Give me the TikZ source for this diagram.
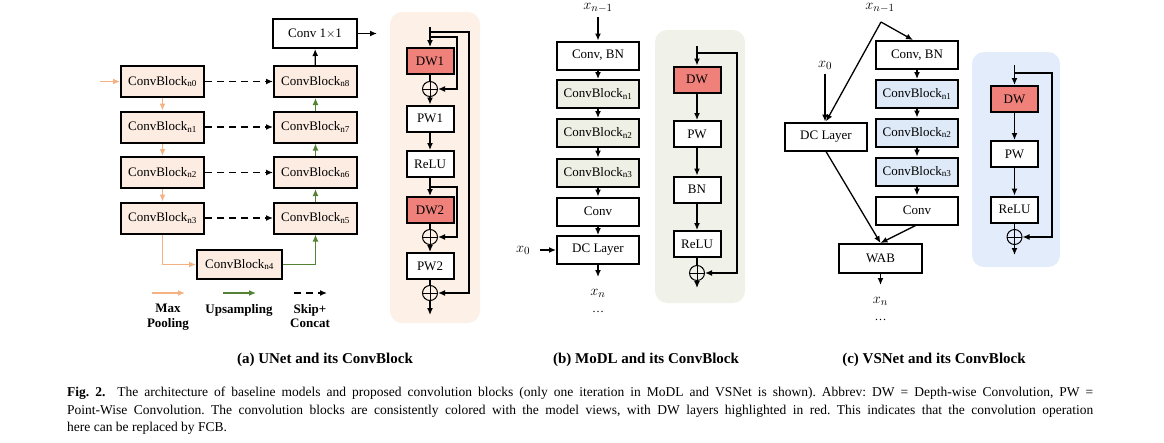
\documentclass[tikz,border=0pt]{standalone}
\usepackage{fontspec}
\setmainfont{Liberation Serif}
\usetikzlibrary{arrows.meta}
\definecolor{white}{RGB}{255,255,255}
\definecolor{black}{RGB}{0,0,0}
\definecolor{peach}{RGB}{252,236,226}
\definecolor{peach_bg}{RGB}{253,240,231}
\definecolor{salmon}{RGB}{240,128,122}
\definecolor{sage}{RGB}{238,240,229}
\definecolor{sage_bg}{RGB}{240,241,232}
\definecolor{ice}{RGB}{222,234,248}
\definecolor{ice_bg}{RGB}{226,236,250}
\definecolor{pool_orange}{RGB}{244,177,131}
\definecolor{up_green}{RGB}{84,130,53}

\tikzset{
	block/.style={draw=black,line width=2pt,fill=white,minimum width=83pt,minimum height=29pt,inner sep=0pt,font=\fontsize{13}{15}\selectfont},
	layer/.style={block,minimum width=47pt,minimum height=26pt},
	addnode/.style={circle,draw=black,line width=1pt,minimum size=15pt,inner sep=0pt,
		path picture={\draw[line width=1pt] (path picture bounding box.north) -- (path picture bounding box.south)
			(path picture bounding box.west) -- (path picture bounding box.east);}},
	flow/.style={black,line width=1.3pt,-{Latex[length=7pt,width=6pt]}},
	poolflow/.style={flow,pool_orange},
	upflow/.style={flow,up_green},
	skipflow/.style={flow,dash pattern=on 7pt off 5pt},
	legend/.style={align=center,font=\bfseries\fontsize{13}{14.5}\selectfont,inner sep=0pt},
	varlabel/.style={font=\fontsize{15}{17}\selectfont,inner sep=1pt},
	dotslabel/.style={font=\fontsize{12}{12}\selectfont,inner sep=0pt},
	subcaption/.style={font=\bfseries\fontsize{15}{17}\selectfont,inner sep=0pt}
}

\begin{document}
\begin{tikzpicture}[x=1pt,y=-1pt]
	\useasboundingbox (0,0) rectangle (1164,442);

	% panels of the conv blocks
	\fill[peach_bg,rounded corners=12pt] (390,12) rectangle (480,323);
	\fill[sage_bg,rounded corners=12pt] (655,30) rectangle (745,303);
	\fill[ice_bg,rounded corners=12pt] (972,52) rectangle (1060,267);

	% (a) UNet
	\node[block,fill=peach,minimum height=31pt] (n0) at (162.5,81.5) {ConvBlock\textsubscript{n0}};
	\node[block,fill=peach,minimum height=31pt] (n1) at (162.5,127) {ConvBlock\textsubscript{n1}};
	\node[block,fill=peach,minimum height=31pt] (n2) at (162.5,172.5) {ConvBlock\textsubscript{n2}};
	\node[block,fill=peach,minimum height=31pt] (n3) at (162.5,218) {ConvBlock\textsubscript{n3}};
	\node[block,fill=peach,minimum width=85pt] (n4) at (239.5,264.5) {ConvBlock\textsubscript{n4}};
	\node[block,fill=peach,minimum height=31pt] (n5) at (315.5,218) {ConvBlock\textsubscript{n5}};
	\node[block,fill=peach,minimum height=31pt] (n6) at (315.5,172.5) {ConvBlock\textsubscript{n6}};
	\node[block,fill=peach,minimum height=31pt] (n7) at (315.5,127) {ConvBlock\textsubscript{n7}};
	\node[block,fill=peach,minimum height=31pt] (n8) at (315.5,81.5) {ConvBlock\textsubscript{n8}};
	\node[block,minimum width=84pt] (c11) at (315,33.5) {Conv 1$\times$1};
	\coordinate (uin) at (100,81.5);
	\coordinate (uout) at (377,33.5);

	\draw[poolflow] (uin) -- (n0);
	\foreach \x/\y in {n0/n1,n1/n2,n2/n3}
		\draw[poolflow] (\x) -- (\y);
	\draw[poolflow] (n3.south) |- (n4.west);
	\draw[upflow] (n4.east) -| (n5.south);
	\foreach \x/\y in {n5/n6,n6/n7,n7/n8}
		\draw[upflow] (\x) -- (\y);
	\foreach \x/\y in {n0/n8,n1/n7,n2/n6,n3/n5}
		\draw[skipflow] (\x) -- (\y);
	\draw[flow] (n8) -- (c11);
	\draw[flow] (c11) -- (uout);

	% legend
	\coordinate (lp1) at (152,293); \coordinate (lp2) at (185,293);
	\coordinate (lu1) at (223,293); \coordinate (lu2) at (256,293);
	\coordinate (ls1) at (294,293); \coordinate (ls2) at (327,293);
	\draw[poolflow] (lp1) -- (lp2);
	\draw[upflow] (lu1) -- (lu2);
	\draw[skipflow] (ls1) -- (ls2);
	\node[legend,anchor=north] (lpool) at (168,304) {Max\\Pooling};
	\node[legend,anchor=north] (lup) at (239,304) {Upsampling};
	\node[legend,anchor=north] (lskip) at (310,304) {Skip+\\Concat};

	% (a) ConvBlock
	\node[layer,fill=salmon] (dw1) at (430,61) {DW1};
	\node[addnode] (sum1) at (430,89) {};
	\node[layer] (pw1) at (430,118.5) {PW1};
	\node[layer] (relu1) at (430,164) {ReLU};
	\node[layer,fill=salmon] (dw2) at (430,210) {DW2};
	\node[addnode] (sum2) at (430,237) {};
	\node[layer] (pw2) at (430,266) {PW2};
	\node[addnode] (sum3) at (430,293) {};
	\coordinate (atop) at (430,27);
	\coordinate (askip1) at (430,37);
	\coordinate (askip0) at (430,32);
	\coordinate (askip2) at (430,187);
	\coordinate (aout) at (430,315);

	\draw[flow] (atop) -- (dw1);
	\draw[line width=1.3pt] (dw1) -- (sum1);
	\draw[line width=1.3pt] (dw2) -- (sum2);
	\draw[line width=1.3pt] (pw2) -- (sum3);
	\foreach \x/\y in {sum1/pw1,pw1/relu1,relu1/dw2,sum2/pw2,sum3/aout}
		\draw[flow] (\x) -- (\y);
	\draw[flow] (askip1) -- ++(27,0) |- (sum1);
	\draw[flow] (askip0) -- ++(39,0) |- (sum3);
	\draw[flow] (askip2) -- ++(27,0) |- (sum2);

	% (b) MoDL
	\node[varlabel] (mxin) at (598,8) {$x_{n-1}$};
	\node[block,minimum width=82pt,minimum height=28pt] (mcbn) at (598,55.5) {Conv, BN};
	\node[block,fill=sage,minimum width=82pt,minimum height=28pt] (mcb1) at (598,94) {ConvBlock\textsubscript{n1}};
	\node[block,fill=sage,minimum width=82pt,minimum height=28pt] (mcb2) at (598,133) {ConvBlock\textsubscript{n2}};
	\node[block,fill=sage,minimum width=82pt,minimum height=28pt] (mcb3) at (598,172.5) {ConvBlock\textsubscript{n3}};
	\node[block,minimum width=82pt,minimum height=28pt] (mconv) at (598,211.5) {Conv};
	\node[block,minimum width=82pt,minimum height=28pt] (mdc) at (598,250) {DC Layer};
	\node[varlabel] (mx0) at (523,250) {$x_0$};
	\coordinate (mout) at (598,277);
	\node[varlabel] (mxn) at (598,293) {$x_n$};
	\node[dotslabel] (mdots) at (598,312) {\dots};

	\draw[flow,shorten <=3pt] (mxin) -- (mcbn);
	\foreach \x/\y in {mcbn/mcb1,mcb1/mcb2,mcb2/mcb3,mcb3/mconv,mconv/mdc,mdc/mout}
		\draw[flow] (\x) -- (\y);
	\draw[flow,shorten <=9pt] (mx0.east) -- (mdc.west);

	% (b) ConvBlock
	\node[layer,fill=salmon] (mdw) at (697,79.5) {DW};
	\node[layer] (mpw) at (697,134) {PW};
	\node[layer] (mbn) at (697,189.5) {BN};
	\node[layer] (mrelu) at (697,244) {ReLU};
	\node[addnode] (msum) at (697,273) {};
	\coordinate (btop) at (697,46);
	\coordinate (bskip) at (697,53);
	\coordinate (bout) at (697,288);

	\foreach \x/\y in {btop/mdw,mdw/mpw,mpw/mbn,mbn/mrelu,msum/bout}
		\draw[flow] (\x) -- (\y);
	\draw[line width=1.3pt] (mrelu) -- (msum);
	\draw[flow] (bskip) -- ++(40,0) |- (msum);

	% (c) VSNet
	\node[varlabel] (vxin) at (880,8) {$x_{n-1}$};
	\coordinate (vsplit) at (881,22);
	\node[varlabel] (vx0) at (825,65) {$x_0$};
	\node[block,minimum width=82pt,minimum height=28pt] (vdc) at (826,136.5) {DC Layer};
	\node[block,minimum width=82pt,minimum height=28pt] (vcbn) at (917,55) {Conv, BN};
	\node[block,fill=ice,minimum width=82pt,minimum height=28pt] (vcb1) at (917,94) {ConvBlock\textsubscript{n1}};
	\node[block,fill=ice,minimum width=82pt,minimum height=28pt] (vcb2) at (917,132.5) {ConvBlock\textsubscript{n2}};
	\node[block,fill=ice,minimum width=82pt,minimum height=28pt] (vcb3) at (917,171.5) {ConvBlock\textsubscript{n3}};
	\node[block,minimum width=82pt,minimum height=28pt] (vconv) at (917,210.5) {Conv};
	\node[block,minimum width=83pt] (vwab) at (880.5,258.5) {WAB};
	\coordinate (vout) at (880.5,285);
	\node[varlabel] (vxn) at (880.5,301) {$x_n$};
	\node[dotslabel] (vdots) at (880.5,320) {\dots};

	\draw[flow] (vsplit) -- (vcbn.105);
	\draw[flow] (vsplit) -- (vdc.north);
	\draw[flow,shorten <=4pt] (vx0.south) -- (vx0.south |- vdc.north);
	\foreach \x/\y in {vcbn/vcb1,vcb1/vcb2,vcb2/vcb3,vcb3/vconv,vwab/vout}
		\draw[flow] (\x) -- (\y);
	\draw[flow] (vdc.south) -- (vwab.north);
	\draw[flow] (vconv.265) -- (vwab.north);

	% (c) ConvBlock
	\node[layer,fill=salmon] (vdw) at (1014.5,99) {DW};
	\node[layer] (vpw) at (1014.5,154) {PW};
	\node[layer] (vrelu) at (1014.5,209.5) {ReLU};
	\node[addnode] (vsum) at (1014.5,237) {};
	\coordinate (ctop) at (1014.5,65);
	\coordinate (cskip) at (1014.5,73);
	\coordinate (cout) at (1014.5,255);

	\foreach \x/\y in {ctop/vdw,vdw/vpw,vpw/vrelu,vsum/cout}
		\draw[flow] (\x) -- (\y);
	\draw[line width=1.3pt] (vrelu) -- (vsum);
	\draw[flow] (cskip) -- ++(37.5,0) |- (vsum);

	% captions
	\node[subcaption] (capa) at (325,360) {(a) UNet and its ConvBlock};
	\node[subcaption] (capb) at (646,360) {(b) MoDL and its ConvBlock};
	\node[subcaption] (capc) at (934,360) {(c) VSNet and its ConvBlock};
	\node[anchor=north west,text width=1026pt,align=justify,inner sep=0pt,font=\frenchspacing\fontsize{13.5}{17.5}\selectfont] (figcap) at (67,387)
		{\textbf{Fig. 2.}\ \ The architecture of baseline models and proposed convolution blocks (only one iteration in MoDL and VSNet is shown). Abbrev: DW = Depth-wise Convolution, PW =\linebreak Point-Wise Convolution. The convolution blocks are consistently colored with the model views, with DW layers highlighted in red. This indicates that the convolution operation\linebreak here can be replaced by FCB.};
\end{tikzpicture}
\end{document}
